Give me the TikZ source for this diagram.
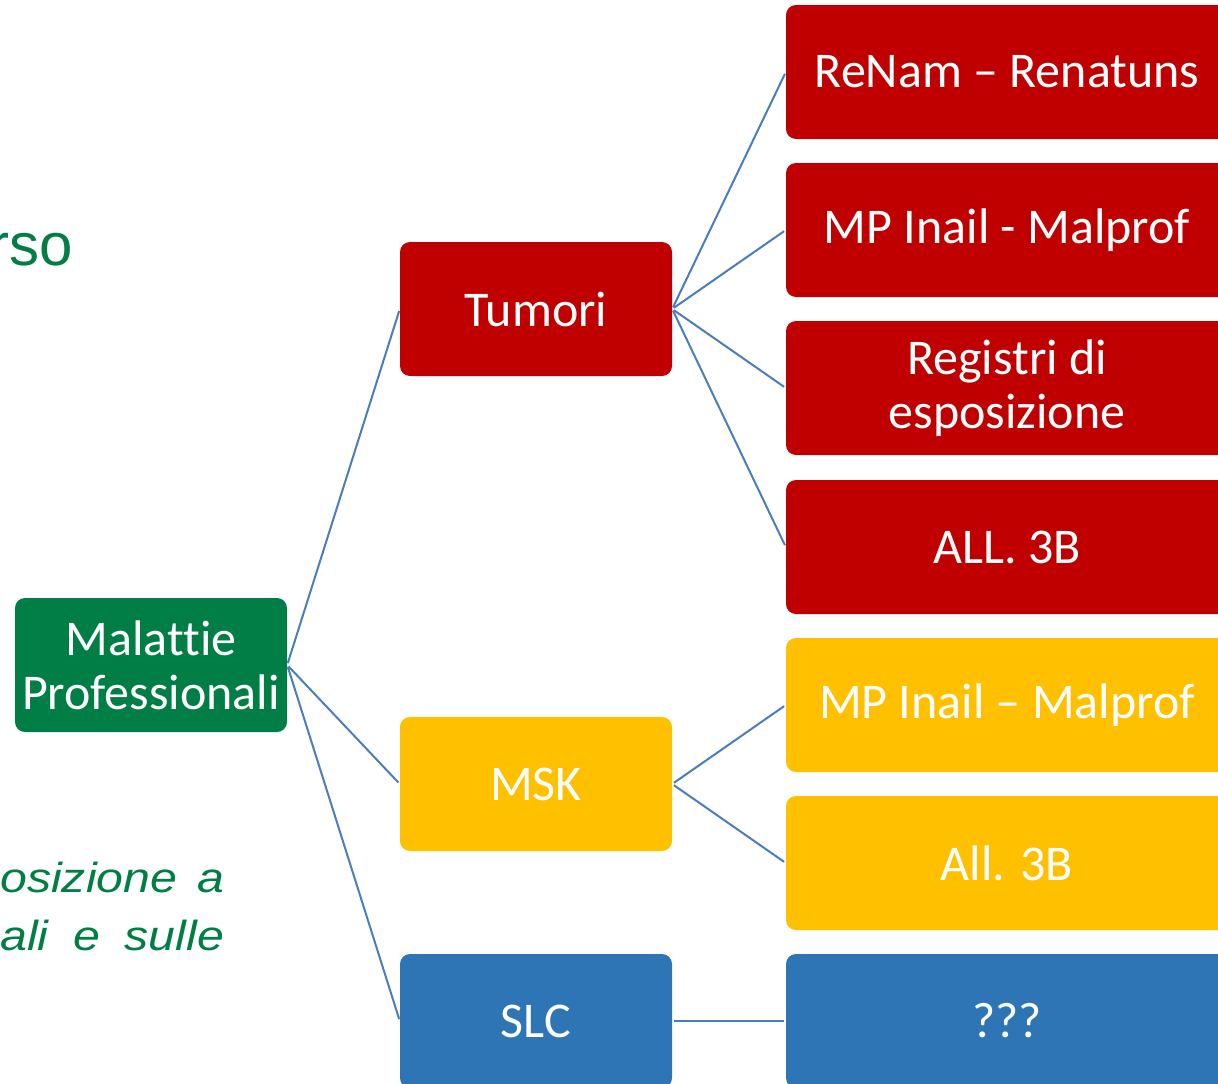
\documentclass[tikz,border=0pt]{standalone}
\usepackage{fontspec}
\setmainfont[Ligatures={NoCommon}]{Carlito}
\newfontfamily\arialfont{Liberation Sans}
\newfontfamily\arialwide[FakeStretch=1.15]{Liberation Sans}
\definecolor{mpgreen}{HTML}{007E45}
\definecolor{mpred}{HTML}{C00000}
\definecolor{mpyellow}{HTML}{FFC000}
\definecolor{mpblue}{HTML}{2E75B6}
\definecolor{mpline}{HTML}{4A7EBB}
\begin{document}
\begin{tikzpicture}[x=1pt,y=-1pt,
  box/.style={rectangle, rounded corners=10pt, inner sep=0pt, align=center,
    minimum height=134pt, text=white, font=\fontsize{50}{54}\selectfont},
  leftbox/.style={box, minimum width=272pt},
  rightbox/.style={box, minimum width=442pt},
  frag/.style={anchor=base west, inner sep=0pt, text=mpgreen, font=\arialwide\itshape\fontsize{42}{57}\selectfont},
  conn/.style={draw=mpline, line width=2pt, shorten >=2pt, shorten <=2pt}]
\useasboundingbox (0,0) rectangle (1218,1084);
\clip (0,0) rectangle (1218,1084);
\fill[white] (0,0) rectangle (1218,1084);
% fragments of text on the left
\node[anchor=base east, inner sep=0pt, text=mpgreen, font=\arialfont\fontsize{60}{66}\selectfont] (frag1) at (73,265) {rso};
\node[frag] (frag2) at (0,892) {\makebox[224pt][s]{osizione a}};
\node[frag] (frag3) at (0,950) {\makebox[224pt][s]{ali e sulle}};
% boxes
\node[leftbox, fill=mpgreen] (mp) at (151,665) {Malattie\\Professionali};
\node[leftbox, fill=mpred] (tum) at (536,309) {Tumori};
\node[leftbox, fill=mpyellow] (msk) at (536,784) {MSK};
\node[leftbox, fill=mpblue] (slc) at (536,1021) {SLC};
\node[rightbox, fill=mpred] (r1) at (1007,72) {ReNam – Renatuns};
\node[rightbox, fill=mpred] (r2) at (1007,230) {MP Inail - Malprof};
\node[rightbox, fill=mpred] (r3) at (1007,388) {Registri di\\esposizione};
\node[rightbox, fill=mpred] (r4) at (1007,547) {ALL. 3B};
\node[rightbox, fill=mpyellow] (y1) at (1007,705) {MP Inail – Malprof};
\node[rightbox, fill=mpyellow] (y2) at (1007,863) {All. 3B};
\node[rightbox, fill=mpblue] (b1) at (1007,1021) {???};
% connectors
\draw[conn] (mp.east) -- (tum.west);
\draw[conn] (mp.east) -- (msk.west);
\draw[conn] (mp.east) -- (slc.west);
\draw[conn] (tum.east) -- (r1.west);
\draw[conn] (tum.east) -- (r2.west);
\draw[conn] (tum.east) -- (r3.west);
\draw[conn] (tum.east) -- (r4.west);
\draw[conn] (msk.east) -- (y1.west);
\draw[conn] (msk.east) -- (y2.west);
\draw[conn] (slc.east) -- (b1.west);
\end{tikzpicture}
\end{document}
